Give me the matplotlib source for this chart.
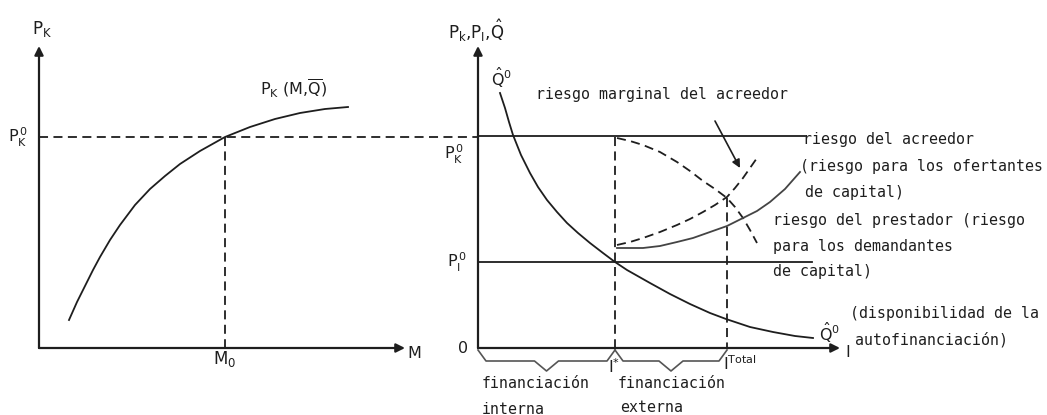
import matplotlib.pyplot as plt

plt.rcParams['font.family'] = ['DejaVu Sans']
plt.rcParams['mathtext.fontset'] = 'dejavusans'

# --- data (pixel space, y downwards) ---
# left panel: P_K(M, Q) curve
pk_x = [69, 77, 85, 93, 100, 110, 120, 135, 150, 165, 180, 200, 225, 250, 275, 300, 325, 348]
pk_y = [320, 302, 286, 270, 257, 240, 225, 205, 189, 176, 164, 151, 137, 127, 119, 113, 109, 107]

# right panel: self-financing availability Q^0
q_x = [500, 505, 509, 513, 521, 530, 538, 547, 557, 567, 578, 590, 603, 615,
       627, 650, 670, 690, 710, 726, 750, 773, 795, 813]
q_y = [93, 108, 122, 135, 155, 173, 187, 200, 212, 223, 233, 243, 253, 262,
       270, 283, 294, 304, 313, 319, 327, 332, 336, 338]

# marginal creditor risk (dashed, falling)
mr_x = [617, 630, 643, 660, 677, 690, 703, 715, 727, 735, 743, 750, 757]
mr_y = [138, 141, 145, 152, 162, 171, 181, 189, 198, 207, 218, 230, 243]

# dashed rising curve
dr_x = [617, 630, 643, 660, 677, 690, 703, 715, 727, 735, 743, 750, 757]
dr_y = [245, 242, 238, 232, 225, 219, 212, 205, 197, 188, 178, 168, 158]

# creditor risk (solid, rising)
cr_x = [617, 630, 643, 660, 677, 693, 710, 727, 743, 757, 770, 785, 800]
cr_y = [248, 248, 248, 246, 242, 238, 232, 226, 218, 211, 202, 189, 172]

PK0_Y = 137
PI0_Y = 262
M0_X = 225
ISTAR_X = 615
ITOT_X = 727
AX_Y = 348
LEFT_X = 39
RIGHT_X = 478

INK = '#1e1e1e'
fig = plt.figure(figsize=(10.47, 4.15), dpi=100)
ax = fig.add_axes([0, 0, 1, 1])
ax.set_xlim(0, 1047)
ax.set_ylim(415, 0)
ax.axis('off')

arrow = dict(arrowstyle='-|>', lw=1.6, color=INK, mutation_scale=13, shrinkA=0, shrinkB=0)
# axes
ax.annotate('', xy=(LEFT_X, 46), xytext=(LEFT_X, AX_Y), arrowprops=arrow)
ax.annotate('', xy=(405, AX_Y), xytext=(LEFT_X, AX_Y), arrowprops=arrow)
ax.annotate('', xy=(RIGHT_X, 46), xytext=(RIGHT_X, AX_Y), arrowprops=arrow)
ax.annotate('', xy=(840, AX_Y), xytext=(RIGHT_X, AX_Y), arrowprops=arrow)

dash = dict(color=INK, lw=1.3, ls=(0, (5, 3)))
solid = dict(color=INK, lw=1.3)

# left panel
ax.plot(pk_x, pk_y, **solid)
ax.plot([LEFT_X, RIGHT_X], [PK0_Y, PK0_Y], **dash)
ax.plot([M0_X, M0_X], [PK0_Y, AX_Y], **dash)

# right panel
ax.plot([RIGHT_X, 805], [PK0_Y - 1, PK0_Y - 1], **solid)
ax.plot([RIGHT_X, 812], [PI0_Y, PI0_Y], **solid)
ax.plot(q_x, q_y, **solid)
ax.plot(mr_x, mr_y, **dash)
ax.plot(dr_x, dr_y, **dash)
ax.plot(cr_x, cr_y, color='#444444', lw=1.3)
ax.plot([ISTAR_X, ISTAR_X], [PK0_Y, AX_Y], **dash)
ax.plot([ITOT_X, ITOT_X], [198, AX_Y], **dash)
ax.annotate('', xy=(740, 168), xytext=(715, 121),
            arrowprops=dict(arrowstyle='-|>', lw=1.2, color=INK, mutation_scale=12,
                            shrinkA=0, shrinkB=0))

# braces under the I axis
for x0, x1 in [(RIGHT_X, ISTAR_X), (ISTAR_X, ITOT_X)]:
    xm = (x0 + x1) / 2
    ax.plot([x0, x0 + 8, xm - 12, xm, xm + 12, x1 - 8, x1],
            [350, 361, 361, 371, 361, 361, 350], color='#555555', lw=1.2)

fs = 10.7
t = dict(color=INK, fontsize=fs, va='center', ha='left', family='DejaVu Sans Mono')
m = dict(color=INK, fontsize=11.5, va='center', ha='left')
# left panel labels
ax.text(42, 29, r'P$_{\rm K}$', ha='center', va='center', color=INK, fontsize=12)
ax.text(8, 137, r'P$_{\rm K}^{\,0}$', **m)
ax.text(260, 89, r'P$_{\rm K}$ (M,$\overline{\rm Q}$)', **m)
ax.text(M0_X, 359, r'M$_0$', ha='center', va='center', color=INK, fontsize=12)
ax.text(407, 353, 'M', **m)

# right panel labels
ax.text(476, 31, r'P$_{\rm k}$,P$_{\rm I}$,$\hat{\rm Q}$', ha='center', va='center', color=INK, fontsize=12)
ax.text(491, 78, r'$\hat{\rm Q}^{0}$', **m)
ax.text(444, 154, r'P$_{\rm K}^{\,0}$', **m)
ax.text(447, 262, r'P$_{\rm I}^{\,0}$', **m)
ax.text(458, 348, '0', **m)
ax.text(819, 333, r'$\hat{\rm Q}^{0}$', **m)
ax.text(845, 352, 'I', **m)
ax.text(608, 367, r'I$^{*}$', **m)
ax.text(723, 364, r'I$^{\rm Total}$', **m)

ax.text(536, 95, 'riesgo marginal del acreedor', **t)
ax.text(803, 139, 'riesgo del acreedor', **t)
ax.text(800, 166, '(riesgo para los ofertantes', **t)
ax.text(805, 192, 'de capital)', **t)
ax.text(773, 220, 'riesgo del prestador (riesgo', **t)
ax.text(773, 246, 'para los demandantes', **t)
ax.text(773, 271, 'de capital)', **t)
ax.text(850, 313, '(disponibilidad de la', **t)
ax.text(855, 340, 'autofinanciación)', **t)
ax.text(482, 383, 'financiación', **t)
ax.text(482, 409, 'interna', **t)
ax.text(618, 383, 'financiación', **t)
ax.text(620, 407, 'externa', **t)

fig.savefig('out.png', dpi=100)
